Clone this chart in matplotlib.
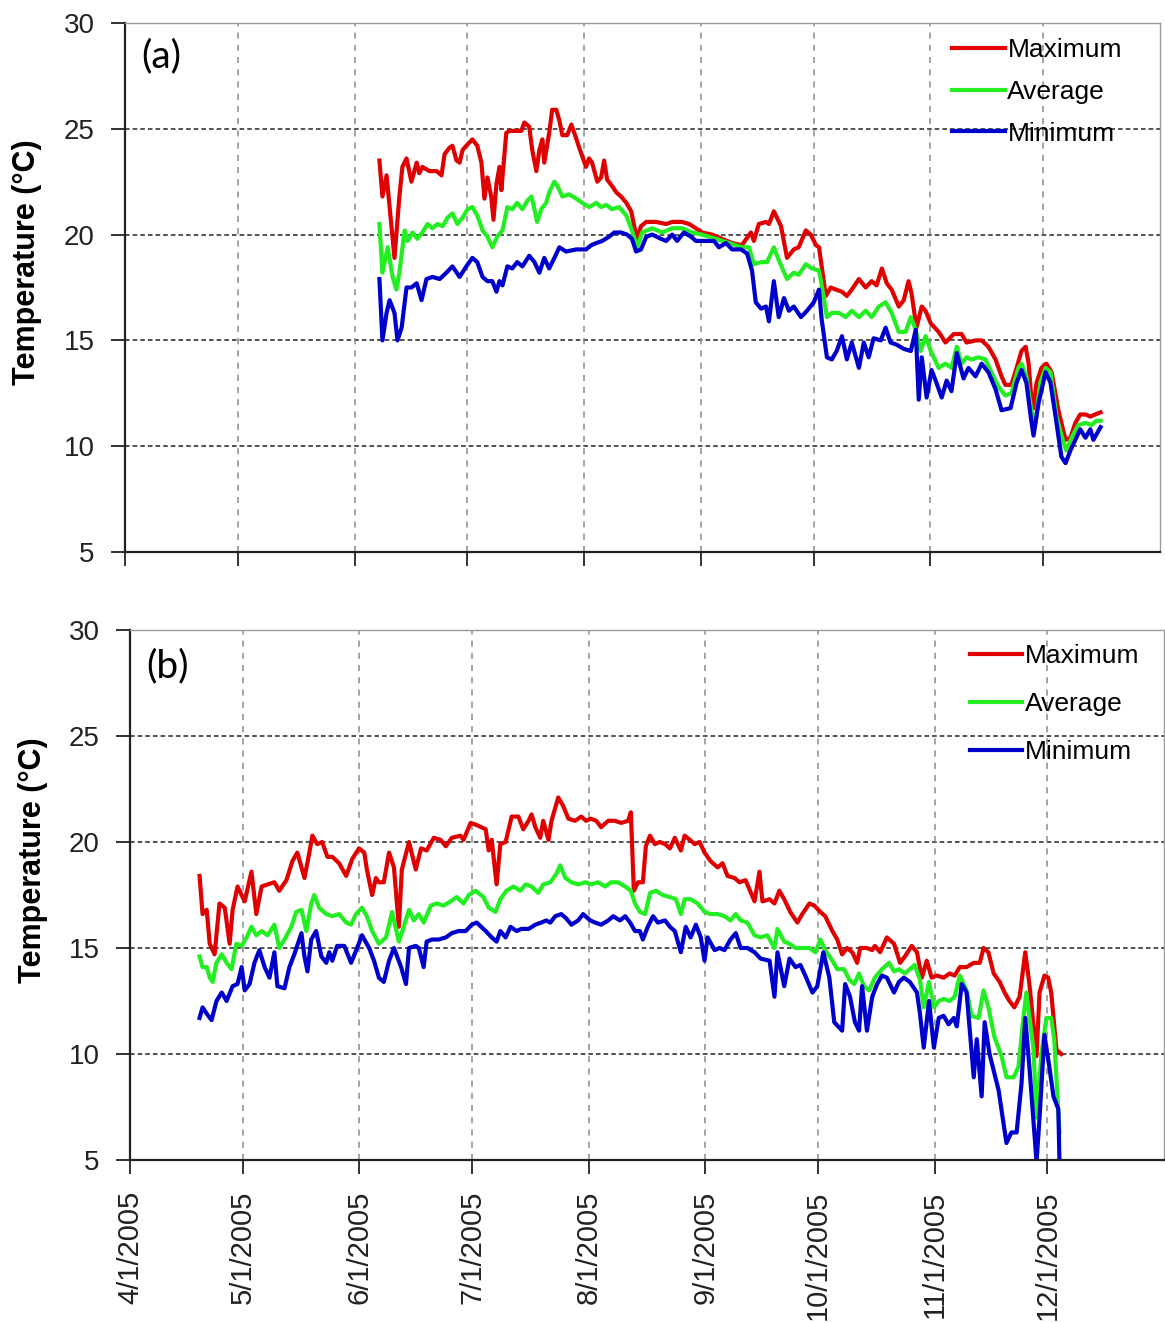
import matplotlib.pyplot as plt
import matplotlib.dates as mdates
import matplotlib.ticker as ticker
import numpy as np
from datetime import datetime

# days after 4/1/2005 and daily temperatures (deg C)
# ---- panel (a)
a_max_day = [67.6, 68.4, 69.5, 71.6, 72.9, 73.7, 74.8, 76.1, 77.5, 78.2,
             79.0, 80.9, 82.8, 84.1, 84.9, 86.2, 87.0, 88.1, 88.9, 89.7,
             90.7, 92.3, 93.6, 94.7, 95.5, 96.3, 97.3, 97.9, 98.7, 99.5,
             100.0, 101.3, 102.1, 104.0, 105.3, 106.1, 107.4, 108.2, 109.3, 110.1,
             110.9, 111.4, 112.7, 113.5, 114.6, 115.4, 116.2, 117.5, 118.6, 119.4,
             120.7, 121.5, 122.5, 123.3, 124.1, 125.5, 126.5, 127.3, 128.1, 129.4,
             130.5, 131.8, 133.2, 134.5, 135.3, 136.1, 137.1, 138.5, 141.1, 143.8,
             145.4, 148.0, 149.9, 151.7, 153.3, 156.0, 158.6, 161.3, 163.9, 166.3,
             167.1, 168.4, 170.3, 171.1, 172.4, 174.3, 175.9, 177.7, 179.0, 180.9,
             182.2, 183.6, 184.4, 185.1, 186.2, 187.5, 188.9, 190.5, 191.8, 193.1,
             195.0, 196.8, 198.4, 199.7, 201.1, 202.4, 203.7, 205.6, 206.9, 208.2,
             209.0, 210.3, 211.7, 212.7, 214.1, 216.2, 218.0, 220.2, 222.3, 223.6,
             226.0, 227.6, 229.4, 231.3, 232.9, 233.9, 235.5, 236.9, 238.2, 239.3,
             240.1, 240.8, 241.4, 242.2, 243.5, 244.8, 246.2, 248.0, 249.9, 251.2,
             252.5, 253.8, 255.2, 256.5, 257.8, 259.2]
a_max = [23.5, 21.8, 22.8, 18.9, 21.8, 23.2, 23.6, 22.5, 23.4, 22.9,
         23.2, 23.0, 23.0, 22.8, 23.8, 24.1, 24.2, 23.5, 23.4, 24.0,
         24.2, 24.5, 24.2, 23.4, 21.7, 22.7, 21.8, 20.7, 22.4, 23.2,
         22.1, 24.8, 24.9, 24.9, 24.9, 25.3, 25.1, 24.0, 23.0, 24.0,
         24.5, 23.4, 24.8, 25.9, 25.9, 25.4, 24.7, 24.7, 25.2, 24.8,
         24.1, 23.7, 23.2, 23.6, 23.4, 22.5, 22.7, 23.5, 22.6, 22.3,
         22.0, 21.8, 21.5, 21.1, 20.4, 19.8, 20.4, 20.6, 20.6, 20.5,
         20.6, 20.6, 20.5, 20.3, 20.1, 20.0, 19.8, 19.6, 19.5, 20.1,
         19.7, 20.5, 20.6, 20.5, 21.1, 20.4, 18.9, 19.3, 19.4, 20.2,
         20.0, 19.5, 19.4, 18.5, 17.1, 17.5, 17.4, 17.3, 17.1, 17.4,
         17.9, 17.5, 17.8, 17.6, 18.4, 17.7, 17.4, 16.6, 16.9, 17.8,
         17.2, 15.6, 16.6, 16.4, 15.8, 15.4, 14.9, 15.3, 15.3, 14.9,
         15.0, 15.0, 14.7, 14.1, 13.3, 12.9, 12.9, 13.7, 14.5, 14.7,
         13.9, 12.3, 11.8, 13.0, 13.7, 13.9, 13.5, 11.7, 10.3, 10.4,
         11.1, 11.5, 11.5, 11.4, 11.5, 11.6]

a_avg_day = [67.6, 68.4, 69.8, 71.1, 72.1, 72.9, 74.3, 75.1, 76.4, 77.7,
             79.0, 80.4, 81.7, 83.0, 84.4, 85.7, 87.0, 88.3, 89.7, 91.0,
             92.3, 93.6, 95.0, 96.3, 97.6, 98.9, 100.3, 101.6, 102.9, 104.2,
             105.6, 106.9, 108.0, 108.8, 109.5, 110.6, 111.9, 112.7, 114.1, 114.9,
             116.2, 118.0, 119.9, 121.5, 123.3, 125.2, 126.5, 127.9, 129.4, 131.3,
             133.2, 134.7, 136.1, 137.4, 140.1, 142.7, 145.4, 148.0, 150.7, 153.3,
             157.0, 160.5, 163.9, 165.8, 167.1, 169.0, 170.6, 172.4, 173.7, 175.9,
             177.7, 179.0, 180.9, 182.5, 184.4, 185.7, 186.5, 187.8, 189.7, 191.5,
             193.1, 195.0, 196.8, 198.4, 200.3, 202.1, 203.7, 205.6, 207.4, 208.8,
             210.1, 211.4, 212.7, 214.1, 216.2, 218.0, 219.6, 221.0, 222.3, 223.6,
             224.9, 226.8, 228.6, 230.2, 232.1, 233.9, 235.5, 237.4, 238.2, 239.5,
             240.8, 241.9, 243.2, 244.6, 245.9, 247.5, 249.3, 250.1, 251.5, 253.3,
             255.2, 256.8, 258.1, 259.2]
a_avg = [20.5, 18.2, 19.4, 18.0, 17.4, 18.2, 20.2, 19.7, 20.1, 19.8,
         20.1, 20.5, 20.3, 20.5, 20.4, 20.8, 21.0, 20.5, 20.8, 21.2,
         21.3, 20.9, 20.2, 19.9, 19.4, 19.9, 20.2, 21.3, 21.2, 21.5,
         21.2, 21.6, 21.8, 21.2, 20.6, 21.2, 21.5, 22.0, 22.5, 22.3,
         21.8, 21.9, 21.7, 21.5, 21.3, 21.5, 21.3, 21.4, 21.2, 21.3,
         20.9, 20.2, 19.4, 20.1, 20.3, 20.1, 20.3, 20.3, 20.1, 20.0,
         19.8, 19.6, 19.4, 19.4, 18.6, 18.7, 18.7, 19.4, 18.8, 17.9,
         18.2, 18.1, 18.6, 18.4, 18.3, 17.0, 16.1, 16.3, 16.3, 16.1,
         16.4, 16.1, 16.4, 16.1, 16.6, 16.8, 16.3, 15.4, 15.4, 16.1,
         15.5, 14.5, 15.2, 14.5, 13.7, 13.9, 13.7, 14.7, 13.9, 14.2,
         14.1, 14.2, 14.1, 13.5, 12.8, 12.4, 12.5, 13.7, 13.9, 13.3,
         11.7, 11.1, 13.0, 13.7, 13.5, 11.4, 10.2, 9.8, 10.4, 11.0,
         11.1, 11.0, 11.2, 11.2]

a_min_day = [67.6, 68.4, 69.5, 70.3, 71.6, 72.4, 73.5, 74.8, 76.1, 77.5,
             78.8, 80.1, 81.7, 83.6, 85.4, 87.0, 88.9, 90.7, 92.3, 93.6,
             95.0, 96.3, 97.6, 98.7, 99.5, 100.3, 101.6, 102.9, 104.2, 105.6,
             107.4, 108.8, 110.1, 111.4, 112.7, 114.1, 115.4, 117.2, 119.9, 122.5,
             123.9, 125.2, 126.8, 128.6, 130.0, 131.8, 133.4, 134.7, 135.8, 137.1,
             138.5, 140.1, 142.4, 143.8, 145.4, 146.7, 148.5, 150.4, 151.7, 154.4,
             156.5, 157.8, 159.7, 161.3, 163.7, 165.3, 166.6, 167.6, 169.0, 170.3,
             171.1, 172.4, 173.7, 175.1, 176.4, 177.7, 179.6, 181.2, 183.0, 184.4,
             185.1, 186.5, 187.8, 189.1, 190.5, 191.8, 193.1, 195.0, 196.3, 197.6,
             198.9, 200.8, 202.1, 203.4, 205.0, 206.9, 208.8, 210.1, 210.9, 211.7,
             213.0, 214.3, 215.6, 217.0, 218.3, 219.6, 221.0, 222.8, 224.1, 226.0,
             227.6, 229.4, 231.3, 232.9, 235.3, 236.9, 238.2, 239.5, 240.8, 241.4,
             242.7, 244.6, 245.9, 247.5, 248.8, 249.9, 251.2, 252.5, 253.8, 255.2,
             256.5, 257.3, 259.2]
a_min = [17.9, 15.0, 16.3, 16.9, 16.3, 15.0, 15.6, 17.5, 17.5, 17.7,
         16.9, 17.9, 18.0, 17.9, 18.2, 18.5, 18.0, 18.5, 18.9, 18.7,
         18.0, 17.8, 17.8, 17.3, 17.8, 17.6, 18.5, 18.4, 18.7, 18.5,
         19.0, 18.7, 18.2, 18.9, 18.4, 18.9, 19.4, 19.2, 19.3, 19.3,
         19.5, 19.6, 19.7, 19.9, 20.1, 20.1, 20.0, 19.8, 19.2, 19.3,
         19.9, 20.0, 19.8, 19.7, 20.0, 19.7, 20.1, 19.9, 19.7, 19.7,
         19.7, 19.4, 19.6, 19.3, 19.3, 19.1, 18.3, 16.8, 16.5, 16.6,
         15.9, 17.8, 16.1, 17.0, 16.4, 16.6, 16.1, 16.4, 16.8, 17.4,
         16.0, 14.2, 14.1, 14.5, 15.2, 14.1, 14.9, 13.7, 14.9, 14.2,
         15.1, 15.0, 15.6, 14.9, 14.8, 14.6, 14.5, 15.5, 12.2, 14.2,
         12.3, 13.6, 13.0, 12.3, 13.1, 12.6, 14.4, 13.2, 13.7, 13.3,
         13.9, 13.5, 12.7, 11.7, 11.8, 13.0, 13.6, 13.0, 11.2, 10.5,
         12.0, 13.5, 13.0, 11.1, 9.5, 9.2, 9.8, 10.3, 10.8, 10.4,
         10.8, 10.3, 10.9]

# ---- panel (b)
b_max_day = [18.5, 19.3, 20.4, 21.2, 22.5, 23.8, 25.2, 26.5, 27.3, 28.6,
             30.5, 32.3, 33.6, 35.0, 36.6, 38.4, 39.7, 41.6, 43.2, 44.5,
             46.4, 47.7, 48.5, 49.8, 51.1, 52.5, 53.8, 55.6, 57.5, 59.1,
             60.9, 62.3, 63.0, 64.4, 65.4, 66.2, 67.5, 68.9, 70.2, 71.5,
             72.3, 74.2, 76.0, 77.4, 78.9, 80.8, 82.6, 84.0, 85.6, 87.9,
             88.7, 90.6, 92.2, 94.6, 95.4, 96.2, 97.5, 98.5, 99.9, 101.5,
             103.3, 104.6, 106.0, 106.8, 107.8, 109.1, 109.9, 111.3, 112.1, 113.9,
             115.2, 116.6, 118.4, 120.0, 121.3, 122.6, 124.0, 125.3, 127.2, 129.0,
             130.6, 132.5, 133.2, 134.0, 135.1, 136.4, 137.2, 138.3, 139.6, 140.9,
             142.3, 143.6, 144.9, 146.5, 147.5, 148.9, 150.2, 151.5, 152.8, 154.4,
             156.3, 157.6, 158.9, 160.8, 162.1, 163.7, 166.1, 167.4, 168.2, 170.1,
             171.4, 172.7, 174.0, 175.6, 177.5, 178.8, 180.7, 182.0, 183.6, 184.9,
             186.8, 188.1, 189.4, 190.7, 192.1, 193.4, 194.2, 196.0, 197.4, 198.1,
             199.5, 201.3, 203.2, 204.8, 206.1, 207.9, 209.3, 210.6, 211.9, 213.2,
             214.6, 216.4, 218.0, 219.3, 220.7, 222.5, 224.4, 226.0, 227.0, 228.3,
             229.7, 231.3, 232.6, 233.9, 235.2, 236.6, 238.1, 239.2, 241.1, 241.9,
             243.2, 244.2, 245.0, 246.4, 247.7]
b_max = [18.4, 16.6, 16.8, 15.2, 14.7, 17.1, 16.9, 15.2, 16.8, 17.9,
         17.2, 18.6, 16.6, 17.9, 18.0, 18.1, 17.7, 18.2, 19.1, 19.5,
         18.3, 19.5, 20.3, 19.9, 20.0, 19.3, 19.3, 19.0, 18.4, 19.2,
         19.7, 19.5, 18.7, 17.5, 18.3, 18.1, 18.1, 19.5, 18.8, 16.0,
         18.7, 20.0, 18.7, 19.7, 19.6, 20.2, 20.1, 19.8, 20.2, 20.3,
         20.1, 20.9, 20.8, 20.6, 19.6, 20.1, 18.0, 19.9, 20.0, 21.2,
         21.2, 20.6, 21.0, 21.3, 20.7, 20.2, 21.0, 20.1, 21.0, 22.1,
         21.7, 21.1, 21.0, 21.2, 21.0, 21.1, 21.0, 20.7, 21.0, 21.0,
         20.9, 21.0, 21.4, 17.7, 18.1, 18.1, 19.8, 20.3, 19.9, 20.0,
         19.9, 19.7, 20.2, 19.6, 20.3, 20.1, 19.9, 20.0, 19.5, 19.1,
         18.8, 19.0, 18.4, 18.3, 18.1, 18.2, 17.2, 18.6, 17.2, 17.3,
         17.1, 17.7, 17.3, 16.7, 16.2, 16.6, 17.1, 17.0, 16.7, 16.5,
         15.8, 15.4, 14.7, 15.0, 14.8, 14.3, 15.0, 15.0, 14.9, 15.1,
         14.8, 15.5, 15.2, 14.3, 14.6, 15.1, 14.8, 13.6, 14.4, 13.6,
         13.7, 13.6, 13.8, 13.7, 14.1, 14.1, 14.3, 14.3, 15.0, 14.8,
         13.8, 13.4, 12.9, 12.5, 12.2, 12.7, 14.8, 13.3, 9.9, 12.9,
         13.7, 13.6, 12.9, 10.2, 10.0]

b_avg_day = [18.5, 19.3, 20.4, 21.2, 22.0, 23.0, 24.4, 25.7, 27.0, 28.3,
             29.7, 31.0, 32.3, 33.6, 35.0, 36.6, 38.4, 39.7, 41.1, 42.9,
             44.2, 45.6, 46.9, 48.2, 49.0, 50.3, 52.2, 53.8, 55.6, 57.5,
             58.8, 60.1, 61.7, 63.0, 64.4, 66.2, 68.1, 69.7, 71.5, 72.8,
             74.2, 75.5, 76.8, 78.1, 80.0, 81.6, 83.4, 85.3, 86.9, 88.7,
             90.1, 91.9, 94.0, 95.4, 97.2, 98.5, 100.1, 102.0, 103.8, 105.2,
             106.8, 108.6, 109.9, 111.8, 113.4, 114.4, 115.8, 117.4, 119.2, 121.1,
             122.6, 124.5, 126.4, 127.9, 129.8, 131.7, 133.2, 134.3, 135.6, 137.0,
             138.3, 139.9, 141.7, 143.6, 145.2, 146.5, 147.5, 149.1, 151.0, 152.8,
             154.4, 156.3, 158.1, 159.7, 161.1, 162.4, 164.2, 166.1, 167.7, 169.5,
             171.4, 172.2, 174.0, 175.4, 177.0, 178.8, 180.7, 182.3, 183.6, 184.9,
             186.8, 188.1, 189.9, 191.3, 192.6, 193.9, 195.2, 196.6, 198.1, 200.0,
             201.9, 203.2, 204.5, 206.1, 207.4, 208.7, 210.1, 211.1, 212.5, 213.8,
             215.1, 216.4, 218.0, 219.3, 220.7, 222.5, 223.8, 225.7, 227.0, 228.3,
             229.9, 231.8, 233.1, 235.0, 236.3, 237.6, 238.4, 240.3, 241.1, 242.4,
             243.7, 245.0, 245.8, 247.2]
b_avg = [14.6, 14.1, 14.1, 13.6, 13.4, 14.3, 14.7, 14.3, 14.0, 15.2,
         15.1, 15.5, 16.0, 15.6, 15.8, 15.6, 16.1, 15.0, 15.4, 16.0,
         16.7, 16.8, 15.8, 17.1, 17.5, 16.9, 16.6, 16.5, 16.6, 16.2,
         16.1, 16.6, 16.9, 16.5, 15.8, 15.2, 15.5, 16.7, 15.3, 16.0,
         16.8, 16.3, 16.6, 16.2, 17.0, 17.1, 17.0, 17.2, 17.4, 17.1,
         17.5, 17.7, 17.4, 16.9, 16.7, 17.3, 17.7, 17.9, 17.7, 18.0,
         17.9, 17.6, 18.0, 18.1, 18.5, 18.9, 18.3, 18.1, 18.0, 18.1,
         18.0, 18.1, 17.9, 18.1, 18.1, 17.9, 17.7, 17.1, 16.7, 16.6,
         17.6, 17.7, 17.5, 17.4, 17.3, 16.6, 17.3, 17.3, 17.1, 16.7,
         16.6, 16.6, 16.5, 16.3, 16.6, 16.3, 16.2, 15.6, 15.5, 15.6,
         15.0, 15.9, 15.3, 15.2, 15.0, 15.0, 15.0, 14.8, 15.4, 14.9,
         14.4, 14.0, 14.0, 13.5, 13.3, 13.8, 13.2, 13.0, 13.6, 14.0,
         14.3, 13.9, 14.0, 13.8, 14.0, 14.2, 13.5, 12.2, 13.4, 12.2,
         12.5, 12.6, 12.5, 12.7, 13.7, 13.0, 11.8, 11.7, 13.0, 12.2,
         10.8, 9.9, 8.9, 8.9, 9.4, 11.7, 12.9, 10.2, 7.0, 10.0,
         11.7, 11.7, 10.7, 6.3]

b_min_day = [18.5, 19.3, 20.4, 21.7, 23.0, 24.4, 25.7, 27.3, 28.6, 29.7,
             30.5, 31.8, 33.1, 34.4, 35.8, 37.1, 38.4, 39.2, 41.1, 42.4,
             43.7, 45.6, 46.4, 47.2, 48.2, 49.5, 50.9, 52.2, 53.0, 53.8,
             55.1, 57.0, 58.8, 60.4, 61.7, 63.6, 64.9, 66.2, 67.5, 68.9,
             70.2, 72.1, 73.4, 74.2, 76.0, 76.8, 78.1, 78.9, 80.3, 82.1,
             84.0, 85.6, 87.4, 89.3, 90.9, 92.2, 94.6, 96.2, 97.5, 98.5,
             99.9, 101.2, 102.8, 104.1, 106.0, 107.8, 109.4, 110.7, 111.8, 113.1,
             114.7, 116.0, 117.4, 119.2, 120.5, 122.4, 123.7, 125.3, 127.2, 128.5,
             130.3, 131.7, 133.0, 134.3, 135.6, 136.4, 137.7, 139.1, 140.4, 142.3,
             143.6, 144.9, 146.5, 147.8, 149.1, 150.5, 151.8, 152.8, 153.6, 155.5,
             156.8, 158.1, 159.7, 161.1, 162.4, 164.2, 166.1, 167.7, 170.1, 171.4,
             172.2, 174.0, 175.4, 177.0, 178.3, 179.6, 181.5, 182.8, 184.4, 186.0,
             187.3, 189.4, 190.2, 191.5, 192.8, 193.9, 194.7, 196.0, 197.4, 198.7,
             200.0, 201.3, 203.2, 204.5, 205.8, 207.4, 209.3, 210.1, 211.1, 212.5,
             213.8, 215.1, 216.4, 217.7, 219.1, 219.9, 221.2, 222.5, 224.4, 225.2,
             226.5, 227.3, 228.6, 231.0, 233.1, 234.4, 235.8, 237.1, 238.1, 239.2,
             241.1, 241.9, 243.2, 244.5, 245.6, 246.9, 247.2]
b_min = [11.7, 12.2, 11.9, 11.6, 12.5, 12.9, 12.5, 13.2, 13.3, 14.1,
         13.0, 13.3, 14.3, 14.9, 14.1, 13.6, 14.8, 13.2, 13.1, 14.1,
         14.7, 15.7, 14.6, 13.9, 15.4, 15.8, 14.6, 14.3, 14.8, 14.4,
         15.1, 15.1, 14.3, 15.0, 15.6, 15.0, 14.4, 13.6, 13.4, 14.4,
         15.0, 14.1, 13.3, 15.0, 15.1, 15.0, 14.1, 15.3, 15.4, 15.4,
         15.5, 15.7, 15.8, 15.8, 16.1, 16.2, 15.8, 15.5, 15.3, 15.8,
         15.5, 16.0, 15.8, 15.9, 15.9, 16.1, 16.2, 16.3, 16.2, 16.5,
         16.6, 16.4, 16.1, 16.3, 16.6, 16.3, 16.2, 16.1, 16.3, 16.5,
         16.3, 16.5, 16.2, 15.8, 15.8, 15.4, 16.0, 16.5, 16.2, 16.3,
         16.0, 15.8, 14.8, 16.0, 15.5, 16.1, 15.5, 14.4, 15.5, 14.9,
         15.0, 14.9, 15.4, 15.7, 15.0, 15.0, 14.8, 14.5, 14.4, 12.7,
         14.8, 13.2, 14.5, 14.1, 14.2, 13.7, 12.9, 13.2, 14.8, 13.6,
         11.5, 11.1, 13.3, 12.7, 11.5, 11.1, 13.2, 11.1, 12.7, 13.3,
         13.7, 13.6, 12.9, 13.4, 13.6, 13.4, 12.9, 11.9, 10.3, 12.5,
         10.3, 11.7, 11.8, 11.4, 11.7, 11.3, 13.3, 12.9, 8.9, 10.7,
         8.0, 11.5, 10.0, 8.3, 5.8, 6.3, 6.3, 8.6, 11.7, 9.4,
         4.9, 7.0, 10.9, 9.4, 8.0, 7.4, 4.9]

series_labels = ['Maximum', 'Average', 'Minimum']
line_colors = ['#e00000', '#22ee22', '#0000cc']
y_ticks = [5, 10, 15, 20, 25, 30]

START = mdates.date2num(datetime(2005, 4, 1))
END = mdates.date2num(datetime(2006, 1, 1))

FONT = 'Liberation Sans'
W, H = 1165, 1323

fig = plt.figure(figsize=(W / 100, H / 100), dpi=100)
ax_a = fig.add_axes([125 / W, (H - 552) / H, 1035 / W, 529 / H])
ax_b = fig.add_axes([130 / W, (H - 1160) / H, 1034 / W, 530 / H])


def month_label(v, pos):
    d = mdates.num2date(v)
    return f"{d.month}/{d.day}/{d.year}"


def setup_panel(ax, series, tag, tag_y, legend_xy, legend_gap, ylabel_xy):
    for (days, vals), lab, col in zip(series, series_labels, line_colors):
        ax.plot(START + np.array(days), vals, color=col, lw=3.0, label=lab,
                solid_joinstyle='round')

    ax.set_xlim(START, END)
    ax.set_ylim(5, 30)
    ax.set_yticks(y_ticks)
    ax.xaxis.set_major_locator(mdates.MonthLocator(bymonth=range(4, 13)))
    ax.xaxis.set_major_formatter(ticker.FuncFormatter(month_label))

    # vertical grey dashes at month starts, black dashes on inner y ticks
    ax.grid(axis='x', color='#8a8a8a', linestyle=(0, (4, 4)), linewidth=1.1)
    for yv in y_ticks[1:-1]:
        ax.axhline(yv, color='#222222', linestyle=(0, (3, 2)), linewidth=1.1,
                   zorder=0.5)
    ax.set_axisbelow(True)

    for side in ['top', 'right']:
        ax.spines[side].set_color('#9a9a9a')
        ax.spines[side].set_linewidth(1.0)
    for side in ['left', 'bottom']:
        ax.spines[side].set_color('#222222')
        ax.spines[side].set_linewidth(1.6)

    ax.tick_params(axis='both', direction='out', length=10, width=1.3,
                   color='#222222')
    ax.tick_params(axis='y', labelsize=20, pad=12)
    ax.tick_params(axis='x', labelsize=21, pad=12, labelrotation=90)
    for lab in ax.get_yticklabels() + ax.get_xticklabels():
        lab.set_fontname(FONT)
        lab.set_color('#222222')

    ax.set_ylabel('Temperature (°C)', fontname=FONT, fontweight='bold',
                  fontsize=22)
    ax.yaxis.set_label_coords(*ylabel_xy)

    ax.text(0.016, tag_y, tag, transform=ax.transAxes,
            fontname='Lato', fontsize=28, va='center', ha='left')

    ax.legend(loc='upper left', bbox_to_anchor=legend_xy, frameon=False,
              prop={'family': FONT, 'size': 19}, handlelength=2.0,
              handletextpad=0.1, labelspacing=legend_gap, borderpad=0,
              borderaxespad=0)


setup_panel(ax_a, [(a_max_day, a_max), (a_avg_day, a_avg), (a_min_day, a_min)],
            '(a)', 0.938, (0.799, 0.972), 0.68, (-0.080, 0.548))
setup_panel(ax_b, [(b_max_day, b_max), (b_avg_day, b_avg), (b_min_day, b_min)],
            '(b)', 0.932, (0.812, 0.973), 0.91, (-0.079, 0.566))
ax_a.tick_params(axis='x', labelbottom=False)

fig.savefig('out.png', dpi=100)
